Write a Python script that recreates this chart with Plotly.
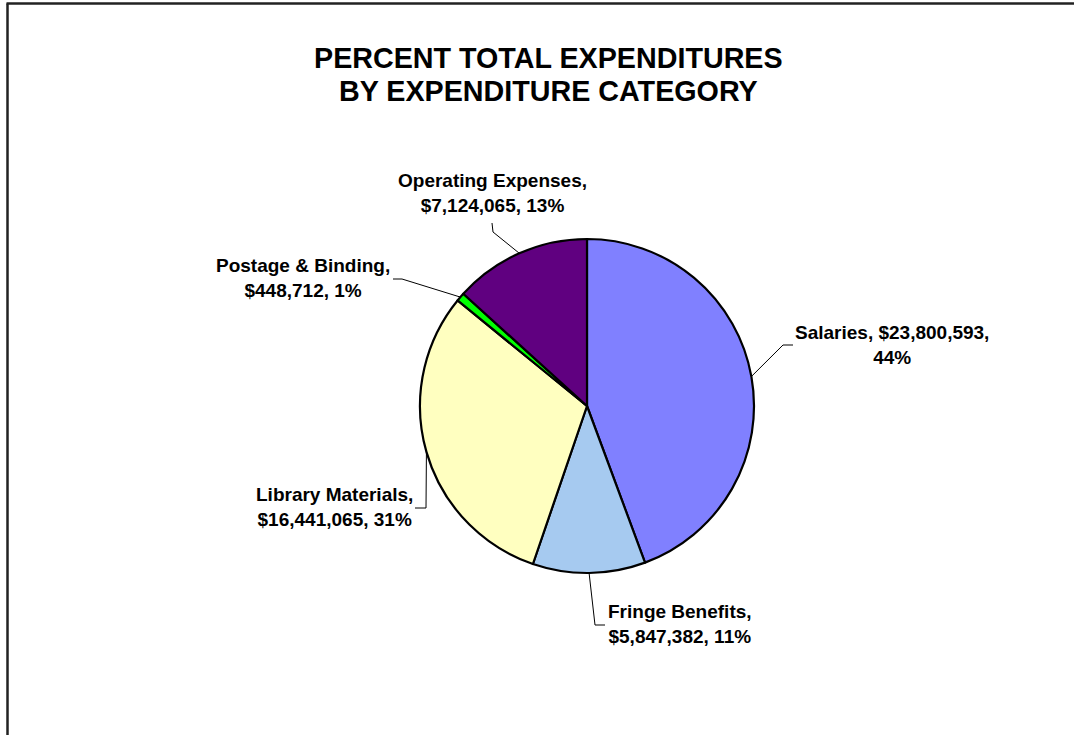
import math
import plotly.graph_objects as go

# ---- data ----
categories = ["Salaries", "Fringe Benefits", "Library Materials", "Postage & Binding", "Operating Expenses"]
amounts = [23800593, 5847382, 16441065, 448712, 7124065]
colors = ["#8080FF", "#A6CAF0", "#FFFFC0", "#00FF00", "#600080"]

title_lines = ["PERCENT TOTAL EXPENDITURES", "BY EXPENDITURE CATEGORY"]

W, H = 1074, 735
FONT = "Liberation Sans, Arial, Helvetica, sans-serif"

# pie geometry in pixels
CX, CY, R = 587, 406, 167

def px(x):
    return x / W

def py(y):
    return 1 - y / H

total = sum(amounts)
pcts = [a / total * 100 for a in amounts]

fig = go.Figure()
fig.add_trace(go.Pie(
    labels=categories,
    values=amounts,
    sort=False,
    direction="clockwise",
    rotation=0,
    textinfo="none",
    hoverinfo="label+value+percent",
    marker=dict(colors=colors, line=dict(color="black", width=2.2)),
    domain=dict(x=[px(CX - R), px(CX + R)], y=[py(CY + R), py(CY - R)]),
    showlegend=False,
))

# label layout: (center x, middle y, label end point, knee point), pixels
label_layout = {
    "Salaries": ((892, 345), (793, 345), (783, 345)),
    "Fringe Benefits": ((680, 624), (605, 625), (595, 625)),
    "Library Materials": ((334, 507), (415, 508), (426, 508)),
    "Postage & Binding": ((303, 278), (393, 279), (402, 279)),
    "Operating Expenses": ((492, 193), (492, 223), (493, 232)),
}

annotations = []
shapes = []
cum = 0.0
for cat, amt, pct in zip(categories, amounts, pcts):
    mid = (cum + pct / 2) / 100 * 2 * math.pi
    cum += pct
    ex = CX + R * math.sin(mid)
    ey = CY - R * math.cos(mid)
    (tx, ty), p1, p2 = label_layout[cat]
    if cat == "Salaries":
        text = f"<b>{cat}, ${amt:,.0f},<br>{round(pct):.0f}%</b>"
    else:
        text = f"<b>{cat},<br>${amt:,.0f}, {round(pct):.0f}%</b>"
    annotations.append(dict(
        x=px(tx), y=py(ty), xref="paper", yref="paper",
        text=text, showarrow=False, xanchor="center", yanchor="middle",
        align="center", font=dict(family=FONT, size=19, color="black"),
    ))
    path = f"M {px(p1[0])},{py(p1[1])} L {px(p2[0])},{py(p2[1])} L {px(ex)},{py(ey)}"
    shapes.append(dict(type="path", xref="paper", yref="paper", path=path,
                       line=dict(color="black", width=1)))

# title lines
for i, line in enumerate(title_lines):
    annotations.append(dict(
        x=px(548), y=py(58 + 33 * i), xref="paper", yref="paper",
        text=f"<b>{line}</b>", showarrow=False, xanchor="center", yanchor="middle",
        font=dict(family=FONT, size=28.7, color="black"),
    ))

# chart frame (left and top edges visible)
shapes.append(dict(type="line", xref="paper", yref="paper",
                   x0=px(7.5), y0=py(3.5), x1=px(7.5), y1=-0.05,
                   line=dict(color="#222222", width=2.5)))
shapes.append(dict(type="line", xref="paper", yref="paper",
                   x0=px(6.5), y0=py(3.5), x1=1.05, y1=py(3.5),
                   line=dict(color="#222222", width=2.5)))

fig.update_layout(
    width=W, height=H,
    margin=dict(l=0, r=0, t=0, b=0),
    paper_bgcolor="white",
    plot_bgcolor="white",
    annotations=annotations,
    shapes=shapes,
    font=dict(family=FONT),
)

fig.write_html(
    "out.html",
    config={"displayModeBar": False},
    post_script="document.body.style.margin='0';document.body.style.overflow='hidden';",
)
